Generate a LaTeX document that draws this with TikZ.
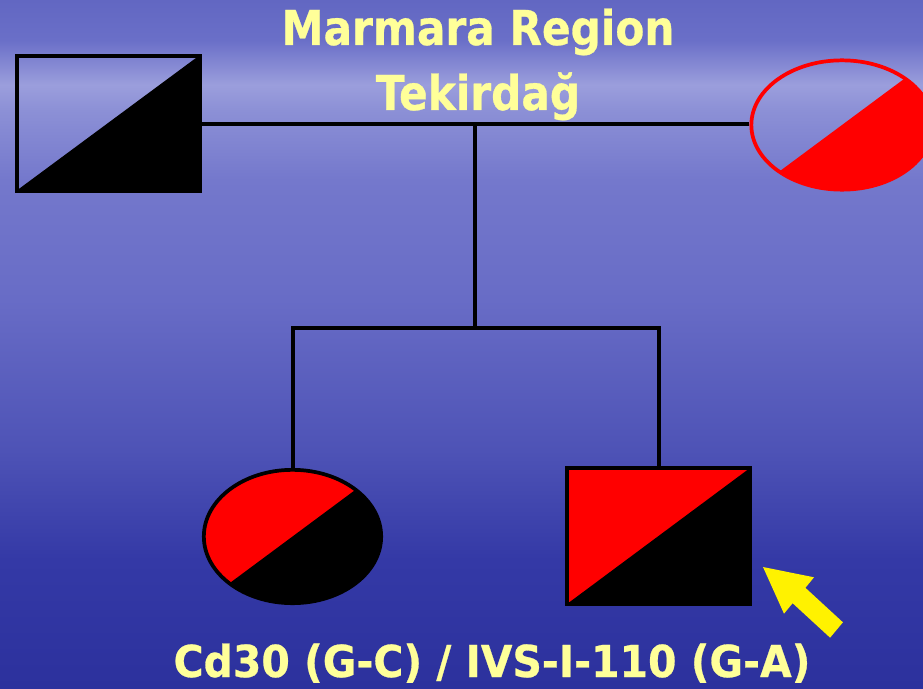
\documentclass[tikz,border=0pt]{standalone}
\usepackage{fontspec}
\usetikzlibrary{shapes.geometric}
\newfontfamily\titlefont{DejaVu Sans}[FakeStretch=0.88,BoldFeatures={FakeBold=0.6}]
\newfontfamily\labelfont{DejaVu Sans}[FakeStretch=0.93,BoldFeatures={FakeBold=0.6}]
\definecolor{txtyellow}{RGB}{255,255,153}
\definecolor{pedred}{RGB}{255,0,0}
\definecolor{bgA}{RGB}{44,49,157}
\definecolor{bgB}{RGB}{52,57,166}
\definecolor{bgC}{RGB}{78,83,182}
\definecolor{bgD}{RGB}{104,108,198}
\definecolor{bgE}{RGB}{116,120,204}
\definecolor{bgF}{RGB}{140,144,214}
\definecolor{bgG}{RGB}{155,158,220}
\definecolor{bgH}{RGB}{106,111,200}
\definecolor{bgI}{RGB}{98,103,194}
\pgfdeclareverticalshading{bgshade}{100bp}{%
 color(0bp)=(bgA);
 color(25bp)=(bgA);
 color(34.30bp)=(bgB);
 color(42.30bp)=(bgC);
 color(53.20bp)=(bgD);
 color(61.92bp)=(bgE);
 color(67.01bp)=(bgF);
 color(68.82bp)=(bgG);
 color(72.09bp)=(bgH);
 color(75bp)=(bgI);
 color(100bp)=(bgI)}
\tikzset{
  conn/.style={line width=3pt, black},
  sqnode/.style={rectangle, draw=black, line width=3.2pt, inner sep=0pt,
    minimum width=137.25pt, minimum height=101.5pt},
  elnode/.style={ellipse, line width=2.8pt, inner sep=0pt},
  titletext/.style={text=txtyellow, font=\titlefont\bfseries\fontsize{36pt}{40pt}\selectfont, inner sep=0pt},
  bottomtext/.style={text=txtyellow, font=\labelfont\bfseries\fontsize{33pt}{38pt}\selectfont, inner sep=0pt},
}
\begin{document}
\begin{tikzpicture}[x=0.75pt,y=-0.75pt]
\useasboundingbox (0,0) rectangle (923,688);
\clip (0,0) rectangle (923,688);
\shade[shading=bgshade] (0,0) rectangle (923,688);

% father: lower-right half black
\node[sqnode, path picture={
  \fill[black] (path picture bounding box.south west) -- (path picture bounding box.north east)
     -- (path picture bounding box.south east) -- cycle;
  \draw[black, line width=1pt] (path picture bounding box.south west) -- (path picture bounding box.north east);}]
  (fa) at (108.5,123.5) {};

% mother: lower-right half red
\node[elnode, draw=pedred, minimum width=136pt, minimum height=97pt, path picture={
  \fill[pedred] ([shift={(-248,184)}]path picture bounding box.center) -- ([shift={(248,-184)}]path picture bounding box.center)
     -- ([shift={(300,300)}]path picture bounding box.center) -- cycle;}]
  (mo) at (842,125) {};

% daughter: upper-left red, lower-right black
\node[elnode, draw=black, fill=pedred, minimum width=133pt, minimum height=100pt, path picture={
  \fill[black] ([shift={(-248,184)}]path picture bounding box.center) -- ([shift={(248,-184)}]path picture bounding box.center)
     -- ([shift={(300,300)}]path picture bounding box.center) -- cycle;}]
  (da) at (292.5,536.5) {};

% son (proband): upper-left red, lower-right black
\node[sqnode, fill=pedred, minimum height=102pt, path picture={
  \fill[black] (path picture bounding box.south west) -- (path picture bounding box.north east)
     -- (path picture bounding box.south east) -- cycle;}]
  (so) at (658.5,536) {};

% connectors
\coordinate (mid) at (475,124);
\coordinate (sib) at (475,328);
\draw[conn] (fa.east |- mid) -- (mo.west |- mid);
\draw[conn] (mid) -- (sib);
\draw[conn] (da.north) -- (da.north |- sib) -- (so.north |- sib) -- (so.north);

% proband arrow
\fill[yellow] (763,567) -- (814,577.3) -- (805.4,587.8) -- (842.9,622.3) -- (830.1,637.7)
   -- (792.6,603.2) -- (784,613.7) -- cycle;

% texts
\node[titletext, anchor=base] (t1) at (478,45) {Marmara Region};
\node[titletext, anchor=base] (t2) at (478,110) {Tekirdağ};
\node[bottomtext, anchor=base] (bt) at (492,677) {Cd30 (G-C) / IVS-I-110 (G-A)};
\end{tikzpicture}
\end{document}
